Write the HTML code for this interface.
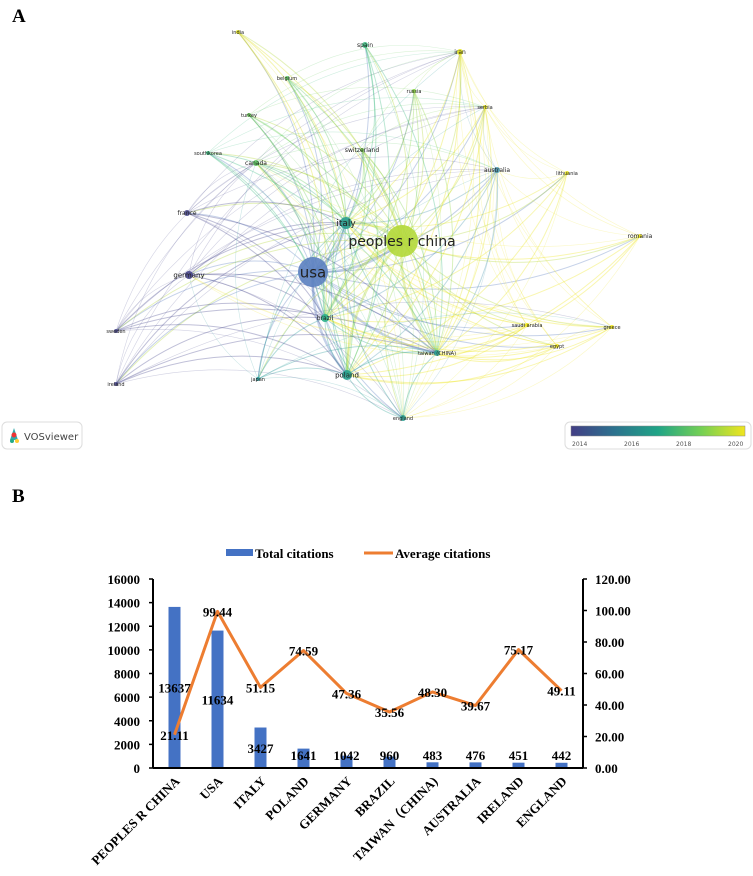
<!DOCTYPE html>
<html><head><meta charset="utf-8"><style>
body{margin:0;background:#fff;width:753px;height:876px;overflow:hidden;font-family:"Liberation Sans",sans-serif}
svg{position:absolute;left:0;top:0}
.nl{font-family:"DejaVu Sans","Liberation Sans",sans-serif;fill:#222}
.b{font-family:"Liberation Serif",serif;font-weight:bold;font-size:13px;fill:#000}
</style></head><body>
<svg width="753" height="876">
<text x="12" y="22" font-family="Liberation Serif" font-weight="bold" font-size="19">A</text>
<text x="12" y="502" font-family="Liberation Serif" font-weight="bold" font-size="19">B</text>
<g id="net"><g id="edges"></g><g id="nodes"></g></g>
<g>
<rect x="2" y="422" width="80" height="27" rx="5" fill="#fff" stroke="#ddd"/>
<path d="M10,440 L14,428 L18,440 Z" fill="#3aa" /><circle cx="14" cy="435" r="2.5" fill="#e33"/><circle cx="12" cy="441" r="2" fill="#2a8"/><circle cx="17" cy="441" r="2" fill="#fc3"/>
<text x="24" y="440" font-size="10" fill="#444" font-family="DejaVu Sans">VOSviewer</text></g>
<g>
<defs><linearGradient id="vir" x1="0" x2="1"><stop offset="0" stop-color="#433e85"/><stop offset="0.25" stop-color="#2c728e"/><stop offset="0.5" stop-color="#20a486"/><stop offset="0.75" stop-color="#75d054"/><stop offset="1" stop-color="#f0e51e"/></linearGradient></defs>
<rect x="565" y="422" width="186" height="27" rx="5" fill="#fff" stroke="#ddd"/>
<rect x="571" y="426" width="174" height="10" fill="url(#vir)" stroke="#888" stroke-width="0.5"/>
<g font-size="6" fill="#555" font-family="DejaVu Sans"><text x="572" y="446">2014</text><text x="624" y="446">2016</text><text x="676" y="446">2018</text><text x="728" y="446">2020</text></g></g>
<g id="chart"></g>
</svg>
<script>
const NS='http://www.w3.org/2000/svg';
function mk(p,t,a){const e=document.createElementNS(NS,t);for(const k in a)e.setAttribute(k,a[k]);p.appendChild(e);return e;}
// ---------- network ----------
const nodes=[["usa",313,272,15,"#5b7fc0",15],["peoples r china",402,241,16,"#b3d83a",14],["italy",346,223,6,"#2a9d8f",9],["brazil",325,318,4,"#2bb08a",6],["taiwan (CHINA)",437,353,3,"#2aa093",5],["poland",347,375,5,"#25a08f",7],["england",403,418,3,"#2aa093",5],["spain",365,45,3,"#3cba80",6],["india",238,32,2,"#dfe020",5],["iran",460,52,3,"#e4e31e",6],["belgium",287,78,2,"#5ec962",5],["russia",414,91,2,"#8fd744",5],["serbia",485,107,2,"#e8e620",5],["turkey",249,115,2,"#6ccd5a",5],["switzerland",362,150,2,"#7ad151",6],["australia",497,170,3,"#4a98b0",6],["lithuania",567,173,2,"#e8e620",5],["southkorea",208,153,2,"#3cba80",5],["canada",256,163,3,"#5ec962",6],["france",187,213,3,"#4b4a8f",6],["romania",640,236,2,"#eee51e",6],["germany",189,275,4,"#46458a",7],["sweden",116,331,2,"#4b4a8f",5],["saudi arabia",527,325,2,"#eee51e",5],["greece",612,327,2,"#eee51e",5],["egypt",557,346,2,"#eee51e",5],["japan",258,379,2,"#2c9a9a",5],["ireland",116,384,2,"#4b4a8f",5]];
const eg=document.getElementById('edges'),ng=document.getElementById('nodes');
for(let i=0;i<nodes.length;i++)for(let j=i+1;j<nodes.length;j++){
 const a=nodes[i],b=nodes[j];const big=(i<6||j<6);if(!big&&(i*7+j*3)%3!==0)continue;
 const mx=(a[1]+b[1])/2,my=(a[2]+b[2])/2,dx=b[1]-a[1],dy=b[2]-a[2];
 const cx=mx-dy*0.2,cy=my+dx*0.2;
 const w=(i<2&&j<6)?2.5:(i<6?1:0.6);
 const p=mk(eg,'path',{d:`M${a[1]},${a[2]} Q${cx},${cy} ${b[1]},${b[2]}`,fill:'none',stroke:(i<2?a[4]:b[4]),'stroke-width':w,'stroke-opacity':big?0.35:0.25});
 
 
}
nodes.forEach(n=>{
 const c=mk(ng,'circle',{cx:n[1],cy:n[2],r:n[3],fill:n[4],'fill-opacity':0.9});
 
 
 const t=mk(ng,'text',{x:n[1],y:n[2]+n[5]*0.35,'font-size':n[5],'text-anchor':'middle',class:'nl'});
 t.textContent=n[0];
 
 
});
// ---------- bar/line chart ----------
const categories=["PEOPLES R CHINA","USA","ITALY","POLAND","GERMANY","BRAZIL","TAIWAN（CHINA)","AUSTRALIA","IRELAND","ENGLAND"];
const totalCitations=[13637,11634,3427,1641,1042,960,483,476,451,442];
const avgCitations=[21.11,99.44,51.15,74.59,47.36,35.56,48.30,39.67,75.17,49.11];
const leftTicks=[0,2000,4000,6000,8000,10000,12000,14000,16000];
const rightTicks=[0,20,40,60,80,100,120];
const g=document.getElementById('chart');
const X0=153,X1=583,Y0=768,Y1=579,slot=(X1-X0)/categories.length;
const yL=v=>Y0-v/16000*(Y0-Y1), yR=v=>Y0-v/120*(Y0-Y1), xc=i=>X0+slot*(i+0.5);
leftTicks.forEach(v=>{const t=mk(g,'text',{x:X0-13,y:yL(v)+5,'text-anchor':'end',class:'b'});t.textContent=v;
 
 mk(g,'line',{x1:X0-4,x2:X0,y1:yL(v),y2:yL(v),stroke:'#000','stroke-width':1.5});});
rightTicks.forEach(v=>{const t=mk(g,'text',{x:X1+12,y:yR(v)+5,class:'b'});t.textContent=v.toFixed(2);
 
 mk(g,'line',{x1:X1,x2:X1+4,y1:yR(v),y2:yR(v),stroke:'#000','stroke-width':1.5});});
totalCitations.forEach((v,i)=>{const r=mk(g,'rect',{x:xc(i)-6,y:yL(v),width:12,height:Y0-yL(v),fill:'#4472c4'});
 });
mk(g,'line',{x1:X0,x2:X0,y1:Y1,y2:Y0,stroke:'#000','stroke-width':2});
mk(g,'line',{x1:X1,x2:X1,y1:Y1,y2:Y0,stroke:'#000','stroke-width':2});
mk(g,'line',{x1:X0,x2:X1,y1:Y0,y2:Y0,stroke:'#000','stroke-width':2});
const ln=mk(g,'polyline',{points:avgCitations.map((v,i)=>xc(i)+','+yR(v)).join(' '),fill:'none',stroke:'#ed7d31','stroke-width':3,'stroke-linejoin':'round'});

totalCitations.forEach((v,i)=>{const y=Math.min((yL(v)+Y0)/2,755);const t=mk(g,'text',{x:xc(i),y:y+5,'text-anchor':'middle',class:'b'});t.textContent=v;
 });
avgCitations.forEach((v,i)=>{const t=mk(g,'text',{x:xc(i),y:yR(v)+5,'text-anchor':'middle',class:'b'});t.textContent=v.toFixed(2);
 });
categories.forEach((c,i)=>{const x=xc(i)+6,y=Y0+14;const t=mk(g,'text',{x:x,y:y,'text-anchor':'end',class:'b',transform:`rotate(-45 ${x} ${y})`});t.textContent=c;
 });
// legend
const lr=mk(g,'rect',{x:226,y:549,width:27,height:7,fill:'#4472c4'});
let t=mk(g,'text',{x:255,y:558,class:'b'});t.textContent='Total citations';
mk(g,'line',{x1:364,x2:393,y1:553,y2:553,stroke:'#ed7d31','stroke-width':3});
t=mk(g,'text',{x:395,y:558,class:'b'});t.textContent='Average citations';
</script>
</body></html>
